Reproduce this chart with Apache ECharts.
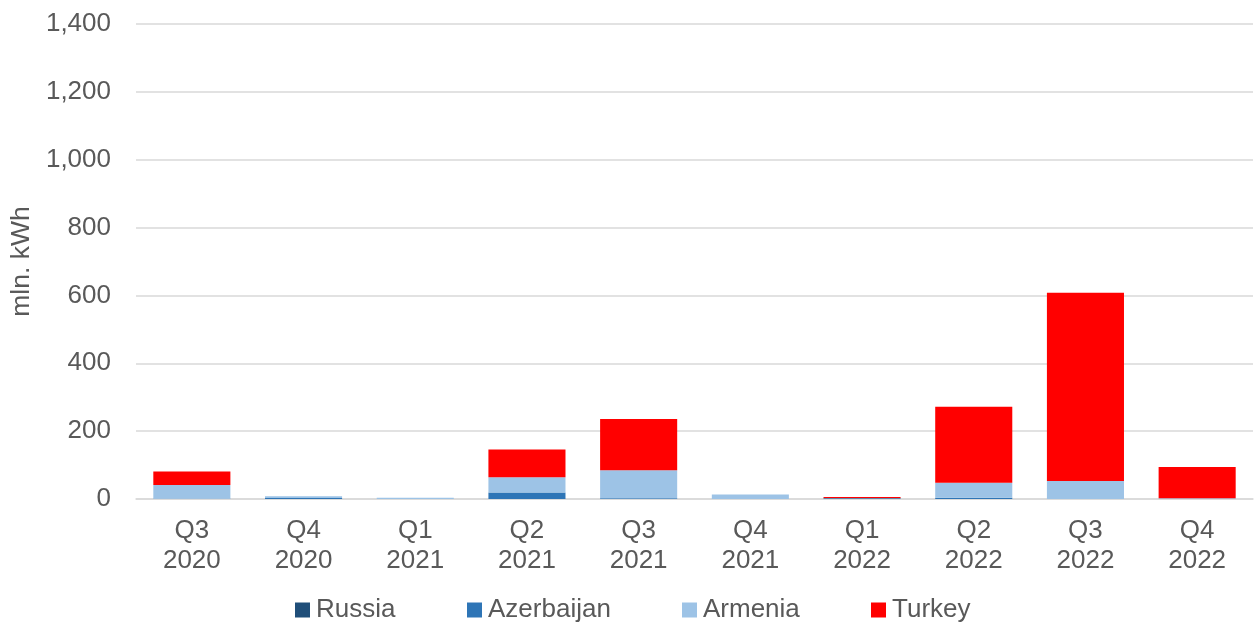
<!DOCTYPE html>
<html><head><meta charset="utf-8">
<script src="https://cdn.jsdelivr.net/npm/echarts@6/dist/echarts.min.js"></script>
<style>html,body{margin:0;padding:0;background:#fff}#c{width:1255px;height:623px}</style>
</head><body><div id="c"></div>
<script>
const categories = ['Q3\n2020','Q4\n2020','Q1\n2021','Q2\n2021','Q3\n2021','Q4\n2021','Q1\n2022','Q2\n2022','Q3\n2022','Q4\n2022'];
const russia     = [0, 0, 0, 0, 0, 0, 2, 0, 0, 0];
const azerbaijan = [1, 3, 0, 19, 2, 0, 0, 4, 0, 0];
const armenia    = [40, 5, 4, 45, 83, 13, 1, 44, 53, 2];
const turkey     = [40, 0, 0, 82, 151, 0, 3, 224, 555, 92];
const seriesNames = ['Russia','Azerbaijan','Armenia','Turkey'];
const colors = ['#1f4e79','#2e75b6','#9dc3e6','#ff0000'];
const yTicks = {min:0, max:1400, interval:200};

const font = 'Liberation Sans, Arial, sans-serif';
const chart = echarts.init(document.getElementById('c'));
const dataSets = [russia, azerbaijan, armenia, turkey];
const legendLeft = [290, 462, 677, 866];
chart.setOption({
  animation:false,
  textStyle:{fontFamily:font},
  grid:{left:136, right:2, top:24, bottom:124},
  legend: seriesNames.map((n,i)=>({
    data:[n], left:legendLeft[i], top:592, itemWidth:15, itemHeight:15, icon:'rect', itemGap:6,
    textStyle:{fontSize:26, color:'#595959', fontFamily:font, padding:[0,0,0,1]}
  })),
  xAxis:{type:'category', data:categories,
    axisLine:{lineStyle:{color:'#d9d9d9', width:1.5}}, axisTick:{show:false},
    axisLabel:{color:'#595959', fontSize:26, lineHeight:30, margin:17, interval:0, fontFamily:font}},
  yAxis:{type:'value', min:yTicks.min, max:yTicks.max, interval:yTicks.interval,
    name:'mln. kWh', nameLocation:'middle', nameGap:101, nameRotate:90,
    nameTextStyle:{color:'#595959', fontSize:26.5, fontFamily:font},
    axisLine:{show:false}, axisTick:{show:false},
    splitLine:{lineStyle:{color:'#d9d9d9', width:1.5}},
    axisLabel:{color:'#595959', fontSize:26, margin:25, fontFamily:font,
      formatter:v=>v.toLocaleString('en-US')}},
  series: seriesNames.map((n,i)=>({
    name:n, type:'bar', stack:'total', data:dataSets[i], barCategoryGap:'31%',
    itemStyle:{color:colors[i]}
  }))
});
</script></body></html>
